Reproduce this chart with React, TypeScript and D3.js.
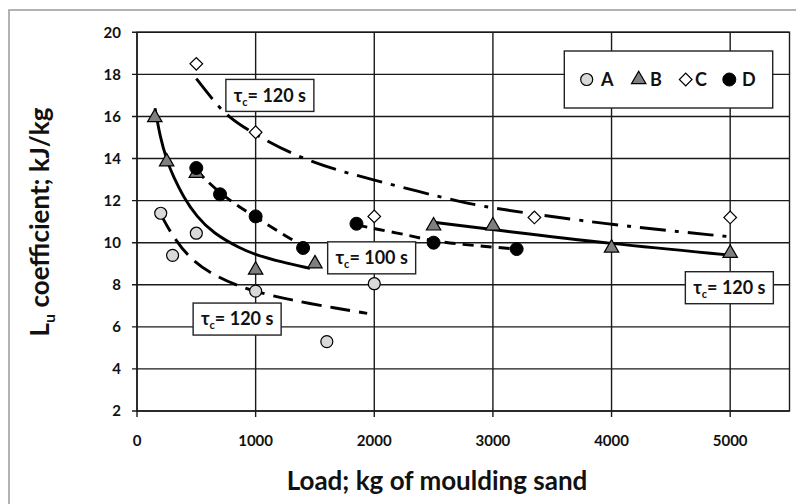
import React from "react";
import * as d3 from "d3";

// ---- data ----
const xTicks = [0, 1000, 2000, 3000, 4000, 5000];
const yTicks = [2, 4, 6, 8, 10, 12, 14, 16, 18, 20];
const legendNames = ["A", "B", "C", "D"];

const seriesA: [number, number][] = [[200, 11.4], [300, 9.4], [500, 10.45], [1000, 7.7], [1600, 5.3], [2000, 8.05]];
const seriesB: [number, number][] = [[150, 15.95], [250, 13.85], [500, 13.3], [1000, 8.7], [1500, 9.0], [2500, 10.8], [3000, 10.8], [4000, 9.75], [5000, 9.5]];
const seriesC: [number, number][] = [[500, 18.5], [1000, 15.25], [2000, 11.25], [3350, 11.2], [5000, 11.2]];
const seriesD: [number, number][] = [[500, 13.55], [700, 12.3], [1000, 11.25], [1400, 9.75], [1850, 10.9], [2500, 10.0], [3200, 9.7]];

// trend lines
const fitA: [number, number][] = [[200, 11.35], [290, 10.4], [450, 9.18], [670, 8.38], [870, 7.91], [1000, 7.67], [1290, 7.28], [1680, 6.88], [1940, 6.64]];
const fitB1: [number, number][] = [[152, 16.39], [194, 15.04], [250, 13.93], [306, 13.14], [390, 12.19], [503, 11.23], [643, 10.45], [868, 9.73], [1009, 9.41], [1205, 9.1], [1458, 8.78]];
const fitB2: [number, number][] = [[2500, 10.97], [3000, 10.62], [4000, 9.94], [5000, 9.41]];
const fitC: [number, number][] = [[500, 17.8], [630, 16.86], [760, 15.99], [1000, 15.12], [1350, 14.09], [1680, 13.45], [2000, 12.98], [2380, 12.42], [2720, 11.95], [3000, 11.63], [4000, 10.84], [5000, 10.28]];
const fitD1: [number, number][] = [[500, 13.45], [700, 12.3], [1000, 11.2], [1290, 10.2], [1430, 9.72]];
const fitD2: [number, number][] = [[1850, 10.85], [2020, 10.64], [2300, 10.35], [2500, 10.05], [2950, 9.81], [3200, 9.7]];

// annotation labels: [x, y, text]
const notes: [number, number, string][] = [[1120, 17.0, "120"], [1978, 9.28, "100"], [844, 6.37, "120"], [4993, 7.86, "120"]];

const W = 796, H = 504;
const FONT = "Lato, 'Open Sans', 'DejaVu Sans', sans-serif";

export default function App() {
  const x = d3.scaleLinear().domain([0, 5500]).range([137, 789.5]);
  const y = d3.scaleLinear().domain([2, 20]).range([411, 32.3]);
  const line = d3.line<[number, number]>().x(d => x(d[0])).y(d => y(d[1])).curve(d3.curveBasis);

  const circle = d3.symbol().type(d3.symbolCircle).size(113)()!;
  const circleD = d3.symbol().type(d3.symbolCircle).size(133)()!;
  const tri = d3.symbol().type(d3.symbolTriangle).size(90)()!;
  const diamond = d3.symbol().type(d3.symbolSquare).size(80)()!;

  const markA = (k: string, tx: number, ty: number) => (
    <path key={k} d={circle} transform={`translate(${tx},${ty})`} fill="#d9d9d9" stroke="#000" strokeWidth={1.2} />
  );
  const markB = (k: string, tx: number, ty: number) => (
    <path key={k} d={tri} transform={`translate(${tx},${ty})`} fill="#7f7f7f" stroke="#000" strokeWidth={1.2} />
  );
  const markC = (k: string, tx: number, ty: number) => (
    <path key={k} d={diamond} transform={`translate(${tx},${ty}) rotate(45)`} fill="#fff" stroke="#000" strokeWidth={1.2} />
  );
  const markD = (k: string, tx: number, ty: number) => (
    <path key={k} d={circleD} transform={`translate(${tx},${ty})`} fill="#000" stroke="#000" strokeWidth={1} />
  );
  const markers = [markA, markB, markC, markD];

  const gridColor = "#1a1a1a";
  const [x0, x1] = x.range();
  const [y0, y1] = y.range();

  return (
    <svg width={W} height={H} style={{ position: "absolute", left: 0, top: 0, background: "#fff" }} fontFamily={FONT}>
      <rect x={0} y={0} width={W} height={H} fill="#fff" />
      <rect x={9} y={10} width={W + 20} height={H + 20} fill="none" stroke="#9a9a9a" strokeWidth={1.5} />

      {/* grid */}
      {yTicks.map(t => (
        <line key={"gy" + t} x1={x0 - 5} x2={x1} y1={y(t)} y2={y(t)} stroke={gridColor} strokeWidth={1.4} />
      ))}
      {xTicks.map(t => (
        <line key={"gx" + t} x1={x(t)} x2={x(t)} y1={y1} y2={y0 + 6} stroke={gridColor} strokeWidth={1.4} />
      ))}
      <rect x={x0} y={y1} width={x1 - x0} height={y0 - y1} fill="none" stroke={gridColor} strokeWidth={1.4} />

      {/* tick labels */}
      {yTicks.map(t => (
        <text key={"ly" + t} x={121} y={y(t)} dy="0.35em" textAnchor="end" fontSize={15} fontWeight="bold" fill="#111">{t}</text>
      ))}
      {xTicks.map(t => (
        <text key={"lx" + t} x={x(t)} y={441} dy="0.35em" textAnchor="middle" fontSize={15} fontWeight="bold" fill="#111">{t}</text>
      ))}

      {/* axis titles */}
      <text x={437} y={481} dy="0.35em" textAnchor="middle" fontSize={26} fontWeight="bold" fill="#111">Load; kg of moulding sand</text>
      <text transform={`translate(40,222) rotate(-90)`} textAnchor="middle" dy="0.35em" fontSize={26} fontWeight="bold" fill="#111">
        L<tspan fontSize={16} dy="6">u</tspan><tspan dy="-6"> coefficient; kJ/kg</tspan>
      </text>

      {/* fit lines */}
      <g fill="none" stroke="#000" strokeWidth={2.9}>
        <path d={line(fitA)!} strokeDasharray="20,9" />
        <path d={line(fitB1)!} />
        <path d={line(fitB2)!} />
        <path d={line(fitC)!} strokeDasharray="26,9,4,9" />
        <path d={line(fitD1)!} strokeDasharray="11,7" />
        <path d={line(fitD2)!} strokeDasharray="11,7" />
      </g>

      {/* points */}
      {seriesA.map((d, i) => markA("a" + i, x(d[0]), y(d[1])))}
      {seriesC.map((d, i) => markC("c" + i, x(d[0]), y(d[1])))}
      {seriesB.map((d, i) => markB("b" + i, x(d[0]), y(d[1])))}
      {seriesD.map((d, i) => markD("d" + i, x(d[0]), y(d[1])))}

      {/* annotations */}
      {notes.map((n, i) => {
        const cx = x(n[0]), cy = y(n[1]);
        return (
          <g key={"n" + i}>
            <rect x={cx - 44} y={cy - 16} width={88} height={32} fill="#fff" stroke="#222" strokeWidth={1.4} />
            <text x={cx} y={cy} dy="0.35em" textAnchor="middle" fontSize={18} fontWeight="bold" fill="#111">
              τ<tspan fontSize={11} dy="4">c</tspan><tspan dy="-4">= {n[2]} s</tspan>
            </text>
          </g>
        );
      })}

      {/* legend */}
      <g>
        <rect x={564.3} y={51} width={208.4} height={57} fill="#fff" stroke="#222" strokeWidth={1.4} />
        {legendNames.map((nm, i) => {
          const mx = [586.7, 638.7, 685.7, 729.3][i];
          const tx = [601, 650, 695, 742][i];
          return (
            <g key={"lg" + nm}>
              {markers[i]("lm" + i, mx, 79.5)}
              <text x={tx} y={79.5} dy="0.35em" fontSize={18} fontWeight="bold" fill="#111">{nm}</text>
            </g>
          );
        })}
      </g>
    </svg>
  );
}
